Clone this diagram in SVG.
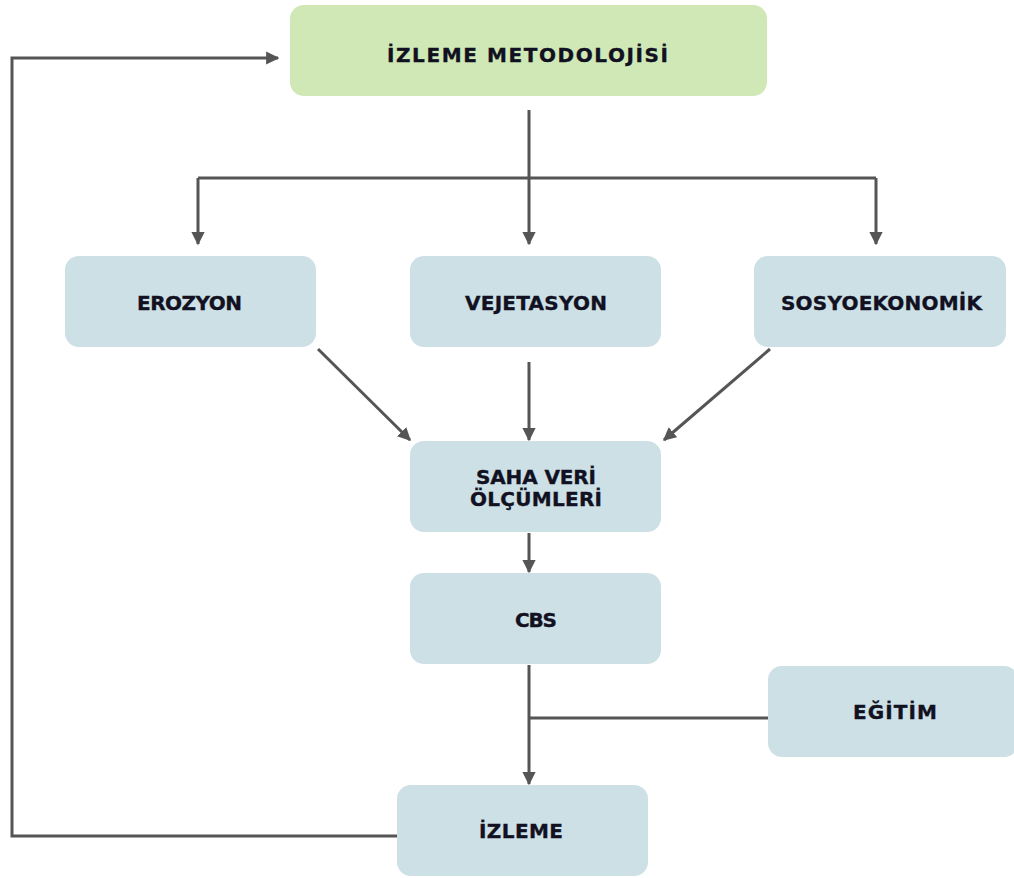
<svg xmlns="http://www.w3.org/2000/svg" width="1014" height="878" viewBox="0 0 1014 878">
<defs>
<marker id="ah" viewBox="0 0 10 10" refX="9" refY="5" markerWidth="4.4" markerHeight="4.4" orient="auto" markerUnits="strokeWidth">
<path d="M0,0 L10,5 L0,10 z" fill="#555555"/>
</marker>
<style>
.box{fill:#cde0e6}
.green{fill:#cfe8b5}
.t{font-family:"DejaVu Sans","Liberation Sans",sans-serif;font-weight:bold;font-size:20px;fill:#111122;stroke:#111122;stroke-width:0.35;text-anchor:middle;dominant-baseline:central}
.c{stroke:#555555;stroke-width:3;fill:none}
.a{stroke:#555555;stroke-width:3;fill:none;marker-end:url(#ah)}
</style>
</defs>
<rect width="1014" height="878" fill="#ffffff"/>
<g id="connectors">
<path class="a" d="M529,110 V244"/>
<path class="c" d="M198,178 H876"/>
<path class="a" d="M198,178 V244"/>
<path class="a" d="M876,178 V244"/>
<path class="a" d="M318,349 L410,440"/>
<path class="a" d="M529,362 V440"/>
<path class="a" d="M770,349 L664,440"/>
<path class="a" d="M529,533 V572"/>
<path class="a" d="M529,665 V784"/>
<path class="c" d="M768,718 H529"/>
<path class="a" d="M397,836 H12 V58 H278"/>
</g>
<g id="n-metodoloji"><rect class="green" x="290" y="5" width="477" height="91" rx="14"/><text class="t" x="527.5" y="55" textLength="281" lengthAdjust="spacing">İZLEME METODOLOJİSİ</text></g>
<g id="n-erozyon"><rect class="box" x="65" y="256" width="251" height="91" rx="14"/><text class="t" x="189.5" y="303" textLength="105" lengthAdjust="spacing">EROZYON</text></g>
<g id="n-vejetasyon"><rect class="box" x="410" y="256" width="251" height="91" rx="14"/><text class="t" x="536" y="303" textLength="142" lengthAdjust="spacing">VEJETASYON</text></g>
<g id="n-sosyo"><rect class="box" x="754" y="256" width="252" height="91" rx="14"/><text class="t" x="881.5" y="303" textLength="201" lengthAdjust="spacing">SOSYOEKONOMİK</text></g>
<g id="n-saha"><rect class="box" x="410" y="441" width="251" height="91" rx="14"/><text class="t" x="536" y="477" textLength="120" lengthAdjust="spacing">SAHA VERİ</text><text class="t" x="536" y="499" textLength="132" lengthAdjust="spacing">ÖLÇÜMLERİ</text></g>
<g id="n-cbs"><rect class="box" x="410" y="573" width="251" height="91" rx="14"/><text class="t" x="536" y="620" textLength="42" lengthAdjust="spacing">CBS</text></g>
<g id="n-egitim"><rect class="box" x="768" y="666" width="250" height="91" rx="14"/><text class="t" x="895" y="712" textLength="84" lengthAdjust="spacing">EĞİTİM</text></g>
<g id="n-izleme"><rect class="box" x="397" y="785" width="251" height="91" rx="14"/><text class="t" x="521" y="831" textLength="84" lengthAdjust="spacing">İZLEME</text></g>
</svg>
